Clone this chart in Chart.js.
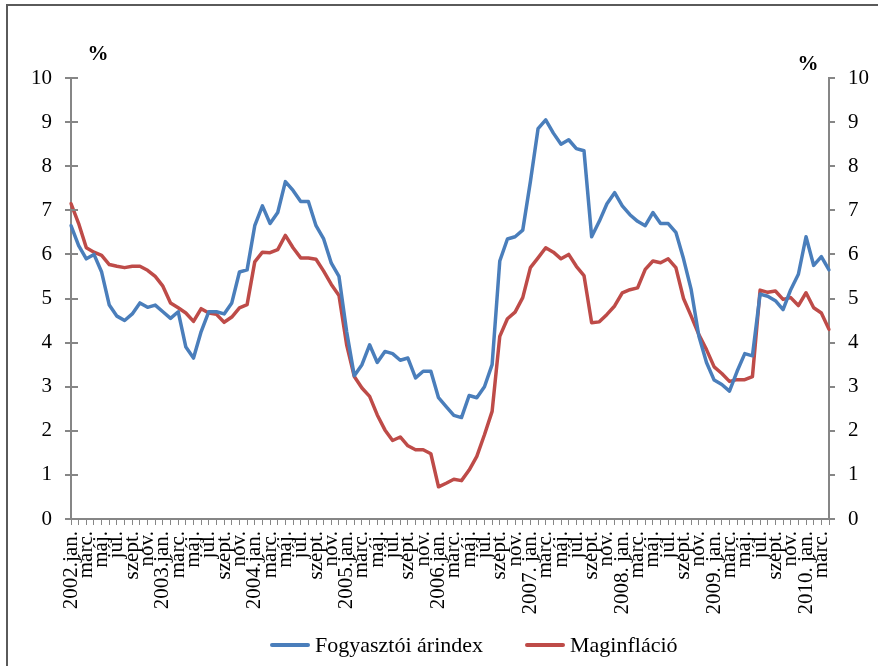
<!DOCTYPE html>
<html>
<head>
<meta charset="utf-8">
<script src="https://cdn.jsdelivr.net/npm/chart.js@4/dist/chart.umd.min.js"></script>
<style>
  body { margin: 0; background: #fff; overflow: hidden; }
  #wrap { position: relative; width: 878px; height: 666px; }
  #frame { position: absolute; left: 6px; top: 4px; width: 900px; height: 700px;
           border-left: 2px solid #5a5a5a; border-top: 2px solid #5a5a5a; }
  #legend { position: absolute; left: 270px; top: 633px; display: flex; align-items: center;
            font: 22px "Liberation Serif", serif; color: #000; line-height: 24px; }
  #legend .item { display: flex; align-items: center; margin-right: 42px; }
  #legend .swatch { width: 40px; height: 4px; border-radius: 2px; margin-right: 5px; }
</style>
</head>
<body>
<div id="wrap">
  <div id="frame"></div>
  <canvas id="chart" width="878" height="666"></canvas>
  <div id="legend"></div>
</div>
<script>
const $ = id => document.getElementById(id);

// havi adatok, 2002. jan. – 2010. ápr.
const months = [
  "2002.jan.", "febr.", "márc.", "ápr.", "máj.", "jún.", "júl.", "aug.", "szept.", "okt.", "nov.", "dec.",
  "2003.jan.", "febr.", "márc.", "ápr.", "máj.", "jún.", "júl.", "aug.", "szept.", "okt.", "nov.", "dec.",
  "2004.jan.", "febr.", "márc.", "ápr.", "máj.", "jún.", "júl.", "aug.", "szept.", "okt.", "nov.", "dec.",
  "2005.jan.", "febr.", "márc.", "ápr.", "máj.", "jún.", "júl.", "aug.", "szept.", "okt.", "nov.", "dec.",
  "2006.jan.", "febr.", "márc.", "ápr.", "máj.", "jún.", "júl.", "aug.", "szept.", "okt.", "nov.", "dec.",
  "2007. jan.", "febr.", "márc.", "ápr.", "máj.", "jún.", "júl.", "aug.", "szept.", "okt.", "nov.", "dec.",
  "2008. jan.", "febr.", "márc.", "ápr.", "máj.", "jún.", "júl.", "aug.", "szept.", "okt.", "nov.", "dec.",
  "2009. jan.", "febr.", "márc.", "ápr.", "máj.", "jún.", "júl.", "aug.", "szept.", "okt.", "nov.", "dec.",
  "2010. jan.", "febr.", "márc.", "ápr."
];

const cpi = [
  6.65, 6.2, 5.9, 6.0, 5.6, 4.85, 4.6, 4.5, 4.65, 4.9, 4.8, 4.85,
  4.7, 4.55, 4.7, 3.9, 3.65, 4.25, 4.7, 4.7, 4.65, 4.9, 5.6, 5.65,
  6.65, 7.1, 6.7, 6.95, 7.65, 7.45, 7.2, 7.2, 6.65, 6.35, 5.8, 5.5,
  4.25, 3.25, 3.5, 3.95, 3.55, 3.8, 3.75, 3.6, 3.65, 3.2, 3.35, 3.35,
  2.75, 2.55, 2.35, 2.3, 2.8, 2.75, 3.0, 3.5, 5.85, 6.35, 6.4, 6.55,
  7.65, 8.85, 9.05, 8.75, 8.5, 8.6, 8.4, 8.35, 6.4, 6.75, 7.15, 7.4,
  7.1, 6.9, 6.75, 6.65, 6.95, 6.7, 6.7, 6.5, 5.9, 5.2, 4.15, 3.55,
  3.15, 3.05, 2.9, 3.35, 3.75, 3.7, 5.1, 5.05, 4.95, 4.75, 5.2, 5.55,
  6.4, 5.75, 5.95, 5.65
];

const core = [
  7.15, 6.7, 6.15, 6.05, 5.98, 5.77, 5.73, 5.7, 5.73, 5.73, 5.64, 5.5,
  5.28, 4.9, 4.79, 4.67, 4.48, 4.77, 4.67, 4.64, 4.46, 4.58, 4.79, 4.86,
  5.83, 6.05, 6.04, 6.11, 6.43, 6.15, 5.92, 5.92, 5.89, 5.62, 5.32, 5.07,
  3.95, 3.23, 2.97, 2.78, 2.36, 2.02, 1.78, 1.86, 1.66, 1.57, 1.57, 1.48,
  0.73, 0.81, 0.9, 0.87, 1.11, 1.42, 1.91, 2.44, 4.14, 4.54, 4.69, 5.02,
  5.7, 5.92, 6.15, 6.05, 5.9, 6.0, 5.73, 5.52, 4.45, 4.47, 4.64, 4.83,
  5.13, 5.2, 5.24, 5.66, 5.85, 5.81, 5.9, 5.7, 5.0, 4.6, 4.18, 3.84,
  3.45, 3.3, 3.12, 3.16, 3.16, 3.23, 5.19, 5.14, 5.17, 4.98, 5.02, 4.84,
  5.13, 4.79, 4.67, 4.3
];

const seriesNames = ["Fogyasztói árindex", "Maginfláció"];
const yTicks = [0, 1, 2, 3, 4, 5, 6, 7, 8, 9, 10];

const BLUE = "#4a7ebb";
const RED = "#be4b48";
const AXIS = "#868686";
const SERIF = "'Liberation Serif', 'DejaVu Serif', serif";

// bal tengely: a jelölők átnyúlnak a rajzterületre; "%" feliratok
const extras = {
  id: "extras",
  afterDraw(c) {
    const ctx = c.ctx;
    const area = c.chartArea;
    const y = c.scales.y;
    ctx.save();
    ctx.strokeStyle = AXIS;
    ctx.lineWidth = 2;
    y.ticks.forEach(t => {
      const py = Math.round(y.getPixelForValue(t.value));
      ctx.beginPath();
      ctx.moveTo(area.left, py);
      ctx.lineTo(area.left + 7, py);
      ctx.stroke();
    });
    ctx.fillStyle = "#000";
    ctx.font = "bold 21px " + SERIF;
    ctx.textAlign = "center";
    ctx.textBaseline = "middle";
    ctx.fillText("%", area.left + 27, area.top - 23);
    ctx.fillText("%", area.right - 21, area.top - 13);
    ctx.restore();
  }
};

const yAxis = (pos, width) => ({
  position: pos,
  min: 0,
  max: 10,
  afterBuildTicks: s => { s.ticks = yTicks.map(v => ({ value: v })); },
  afterFit: s => { s.width = width; },
  grid: { drawOnChartArea: false, tickLength: 6, color: AXIS, lineWidth: 2 },
  border: { color: AXIS, width: 2 },
  ticks: { padding: 13, color: "#000", font: { family: SERIF, size: 21 } }
});

const chart = new Chart($("chart"), {
  type: "line",
  data: {
    labels: months,
    datasets: [
      { label: seriesNames[0], data: cpi, borderColor: BLUE, yAxisID: "y" },
      { label: seriesNames[1], data: core, borderColor: RED, yAxisID: "y" }
    ]
  },
  options: {
    responsive: false,
    animation: false,
    layout: { padding: { top: 78, bottom: 41, left: 0, right: 0 } },
    elements: {
      line: { borderWidth: 3.5, tension: 0, borderJoinStyle: "round", borderCapStyle: "round" },
      point: { radius: 0 }
    },
    plugins: { legend: { display: false }, tooltip: { enabled: false } },
    scales: {
      x: {
        offset: false,
        afterFit: s => { s.height = 106; },
        grid: { drawOnChartArea: false, tickLength: 6, color: AXIS, lineWidth: 1 },
        border: { color: AXIS, width: 2 },
        ticks: {
          autoSkip: false, minRotation: 90, maxRotation: 90, padding: 6,
          color: "#000", font: { family: SERIF, size: 21 },
          callback: (v, i) => (i % 2 ? "" : months[i])
        }
      },
      y: yAxis("left", 71),
      y2: yAxis("right", 49)
    }
  },
  plugins: [extras]
});

// jelmagyarázat a sorozatokból
$("legend").innerHTML = chart.data.datasets.map(d => `
  <div class="item"><span class="swatch" style="background:${d.borderColor}"></span>${d.label}</div>
`).join("");
</script>
</body>
</html>
